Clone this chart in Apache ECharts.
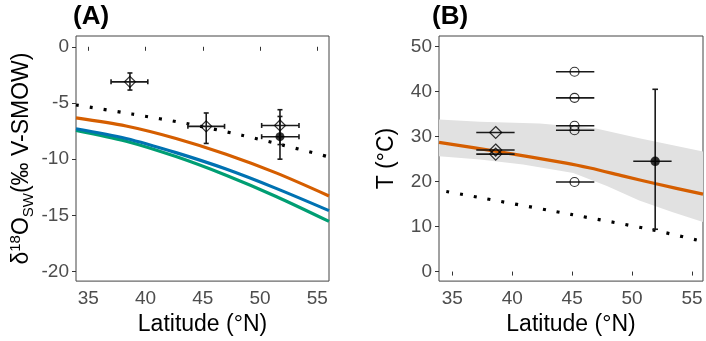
<!DOCTYPE html>
<html>
<head>
<meta charset="utf-8">
<script src="https://cdn.jsdelivr.net/npm/echarts@6/dist/echarts.min.js"></script>
<style>
html,body{margin:0;padding:0;background:#fff;}
#chart{width:706px;height:341px;}
</style>
</head>
<body>
<div id="chart"></div>
<script>
// ---------- tick labels ----------
const latTicks = [35, 40, 45, 50, 55];
const d18Ticks = [-20, -15, -10, -5, 0];
const tempTicks = [0, 10, 20, 30, 40, 50];

// ---------- Panel A: model curves ----------
const curveLatA = [33.93, 38.3, 42.66, 47.03, 51.4, 56.02];
const orangeA = [-6.33, -7.05, -8.16, -9.56, -11.22, -13.27];
const blueA = [-7.29, -8.16, -9.42, -10.88, -12.6, -14.58];
const greenA = [-7.44, -8.4, -9.77, -11.43, -13.32, -15.54];
const dotLatA = [33.93, 38.8, 43.7, 48.4, 52.0, 56.02];
const dotValA = [-5.18, -5.98, -6.85, -7.87, -8.75, -9.8];

// ---------- Panel A: observations ----------
const diaLatA = [38.64, 45.3, 51.74];
const diaValA = [-3.12, -7.08, -7.0];
const diaLatLoA = [36.99, 43.7, 50.14];
const diaLatHiA = [40.2, 46.9, 53.4];
const diaValLoA = [-3.85, -8.6, -8.7];
const diaValHiA = [-2.33, -5.89, -5.6];
const dotPtLatA = [51.74];
const dotPtValA = [-8.0];
const dotPtLatLoA = [50.14];
const dotPtLatHiA = [53.4];
const dotPtValLoA = [-10.0];
const dotPtValHiA = [-6.2];

// ---------- Panel B: model ----------
const curveLatB = [33.89, 38.7, 44.5, 46.5, 49.3, 52.0, 55.92];
const orangeB = [28.7, 26.7, 24.1, 23.0, 21.2, 19.5, 17.2];
const bandUpLatB = [33.89, 37.3, 42.3, 47.0, 50.6, 55.92];
const bandUpB = [33.8, 33.3, 32.9, 31.8, 29.6, 26.7];
const bandLoLatB = [33.89, 37.3, 40.9, 45.1, 47.9, 50.6, 53.4, 55.92];
const bandLoB = [25.6, 24.9, 23.8, 21.9, 19.0, 15.8, 13.2, 11.0];
const dotLatB = [34.5, 44.9, 51.65, 55.4];
const dotValB = [17.8, 12.7, 9.3, 7.0];

// ---------- Panel B: observations ----------
const diaLatB = [38.62, 38.62, 38.62];
const diaValB = [30.9, 27.0, 26.1];
const diaLatLoB = [37.0, 37.0, 37.0];
const diaLatHiB = [40.2, 40.2, 40.2];
const cirLatB = [45.2, 45.2, 45.2, 45.2, 45.2];
const cirValB = [44.4, 38.6, 32.4, 31.4, 19.9];
const cirLatLoB = [43.65, 43.65, 43.65, 43.65, 43.65];
const cirLatHiB = [46.85, 46.85, 46.85, 46.85, 46.85];
const filLatB = [51.93];
const filValB = [24.5];
const filLatLoB = [50.1];
const filLatHiB = [53.3];
const filValLoB = [9.4];
const filValHiB = [40.5];

// ---------- helpers ----------
const zip = (a, b) => a.map((v, i) => [v, b[i]]);
function errRows(x, y, xlo, xhi, ylo, yhi) {
  return x.map((v, i) => [v, y[i], xlo[i], xhi[i],
    ylo ? ylo[i] : y[i], yhi ? yhi[i] : y[i]]);
}
function errRender(capX, capY) {
  return function (params, api) {
    const x = api.value(0), y = api.value(1);
    const xlo = api.value(2), xhi = api.value(3);
    const ylo = api.value(4), yhi = api.value(5);
    const st = { stroke: '#1a1a1a', lineWidth: 1.6, fill: null };
    const ch = [];
    if (xlo !== xhi) {
      const a = api.coord([xlo, y]), b = api.coord([xhi, y]);
      ch.push({ type: 'line', shape: { x1: a[0], y1: a[1], x2: b[0], y2: b[1] }, style: st });
      if (capX) {
        ch.push({ type: 'line', shape: { x1: a[0], y1: a[1] - capX, x2: a[0], y2: a[1] + capX }, style: st });
        ch.push({ type: 'line', shape: { x1: b[0], y1: b[1] - capX, x2: b[0], y2: b[1] + capX }, style: st });
      }
    }
    if (ylo !== yhi) {
      const a = api.coord([x, ylo]), b = api.coord([x, yhi]);
      ch.push({ type: 'line', shape: { x1: a[0], y1: a[1], x2: b[0], y2: b[1] }, style: st });
      if (capY) {
        ch.push({ type: 'line', shape: { x1: a[0] - capY, y1: a[1], x2: a[0] + capY, y2: a[1] }, style: st });
        ch.push({ type: 'line', shape: { x1: b[0] - capY, y1: b[1], x2: b[0] + capY, y2: b[1] }, style: st });
      }
    }
    return { type: 'group', children: ch };
  };
}
function bandRender(params, api) {
  const pts = [];
  bandUpLatB.forEach((v, i) => pts.push(api.coord([v, bandUpB[i]])));
  for (let i = bandLoLatB.length - 1; i >= 0; i--) pts.push(api.coord([bandLoLatB[i], bandLoB[i]]));
  return { type: 'polygon', shape: { points: pts }, style: { fill: '#e1e1e1', stroke: null } };
}

const FONT = '"Liberation Sans", Arial, Helvetica, sans-serif';
const tickLabel = { color: '#4d4d4d', fontSize: 19, fontFamily: FONT };
function xAx(grid, min, max) {
  return {
    type: 'value', gridIndex: grid, min: min, max: max,
    name: 'Latitude (°N)', nameLocation: 'middle', nameGap: 25,
    nameTextStyle: { color: '#000', fontSize: 23, fontFamily: FONT },
    axisLine: { show: false },
    axisTick: { show: true, length: 4, lineStyle: { color: '#333', width: 1 }, customValues: latTicks },
    axisLabel: Object.assign({ margin: 8, customValues: latTicks }, tickLabel),
    splitLine: { show: false }
  };
}
function yAx(grid, min, max, ticks, name, rich, gap) {
  const o = {
    type: 'value', gridIndex: grid, min: min, max: max,
    name: name, nameLocation: 'middle', nameGap: gap,
    nameTextStyle: { color: '#000', fontSize: 23, fontFamily: FONT },
    axisLine: { show: false },
    axisTick: { show: true, length: 4, lineStyle: { color: '#333', width: 1 }, customValues: ticks },
    axisLabel: Object.assign({ margin: 7, customValues: ticks }, tickLabel),
    splitLine: { show: false }
  };
  if (rich) o.nameTextStyle.rich = rich;
  return o;
}

const chart = echarts.init(document.getElementById('chart'), null, { renderer: 'canvas' });
const option = {
  animation: false,
  backgroundColor: '#fff',
  graphic: [
    { type: 'text', left: 73, top: 4, style: { text: '(A)', font: 'bold 26px ' + FONT, fill: '#000' } },
    { type: 'text', left: 432, top: 4, style: { text: '(B)', font: 'bold 26px ' + FONT, fill: '#000' } }
  ],
  grid: [
    { left: 76, top: 36, width: 253, height: 249, show: true, borderColor: '#444', borderWidth: 1, backgroundColor: 'transparent' },
    { left: 439, top: 36, width: 264, height: 249, show: true, borderColor: '#444', borderWidth: 1, backgroundColor: 'transparent' }
  ],
  xAxis: [xAx(0, 33.93, 56.02), xAx(1, 33.89, 55.92)],
  yAxis: [
    yAx(0, -20.85, 0.96, d18Ticks, '{d|δ}{sup|18}{d|O}{sub|SW}{d|(‰ V-SMOW)}', {
      d: { fontSize: 23, color: '#000', fontFamily: FONT, lineHeight: 28 },
      sup: { fontSize: 15, color: '#000', fontFamily: FONT, lineHeight: 15, verticalAlign: 'top' },
      sub: { fontSize: 15, color: '#000', fontFamily: FONT, lineHeight: 18, verticalAlign: 'bottom' }
    }, 40),
    yAx(1, -2.12, 52.34, tempTicks, 'T (°C)', null, 41)
  ],
  series: [
    // ----- Panel A -----
    { type: 'line', xAxisIndex: 0, yAxisIndex: 0, data: zip(dotLatA, dotValA), smooth: 0.3, symbol: 'none',
      lineStyle: { color: '#000', width: 3.2, type: [3, 11], cap: 'butt' }, z: 3 },
    { type: 'line', xAxisIndex: 0, yAxisIndex: 0, data: zip(curveLatA, greenA), smooth: 0.3, symbol: 'none',
      lineStyle: { color: '#009E73', width: 3.2 }, z: 3 },
    { type: 'line', xAxisIndex: 0, yAxisIndex: 0, data: zip(curveLatA, blueA), smooth: 0.3, symbol: 'none',
      lineStyle: { color: '#0072B2', width: 3.2 }, z: 3 },
    { type: 'line', xAxisIndex: 0, yAxisIndex: 0, data: zip(curveLatA, orangeA), smooth: 0.3, symbol: 'none',
      lineStyle: { color: '#D55E00', width: 3.2 }, z: 3 },
    { type: 'custom', xAxisIndex: 0, yAxisIndex: 0, renderItem: errRender(2.5, 2.5),
      encode: { x: [0, 2, 3], y: [1, 4, 5] },
      data: errRows(diaLatA, diaValA, diaLatLoA, diaLatHiA, diaValLoA, diaValHiA)
        .concat(errRows(dotPtLatA, dotPtValA, dotPtLatLoA, dotPtLatHiA, dotPtValLoA, dotPtValHiA)), z: 4 },
    { type: 'scatter', xAxisIndex: 0, yAxisIndex: 0, data: zip(dotPtLatA, dotPtValA), symbol: 'circle', symbolSize: 9,
      itemStyle: { color: '#000', borderWidth: 0 }, z: 5 },
    { type: 'scatter', xAxisIndex: 0, yAxisIndex: 0, data: zip(diaLatA, diaValA), symbol: 'diamond', symbolSize: 11,
      itemStyle: { color: 'rgba(0,0,0,0)', borderColor: '#000', borderWidth: 1.2 }, z: 6 },

    // ----- Panel B -----
    { type: 'custom', xAxisIndex: 1, yAxisIndex: 1, renderItem: bandRender, data: [[45, 25]], z: 1, silent: true, clip: true },
    { type: 'line', xAxisIndex: 1, yAxisIndex: 1, data: zip(dotLatB, dotValB), smooth: 0.3, symbol: 'none',
      lineStyle: { color: '#000', width: 3.2, type: [3, 11], cap: 'butt' }, z: 3 },
    { type: 'line', xAxisIndex: 1, yAxisIndex: 1, data: zip(curveLatB, orangeB), smooth: 0.3, symbol: 'none',
      lineStyle: { color: '#D55E00', width: 3.2 }, z: 3 },
    { type: 'custom', xAxisIndex: 1, yAxisIndex: 1, renderItem: errRender(0, 2.8),
      encode: { x: [0, 2, 3], y: [1, 4, 5] },
      data: errRows(diaLatB, diaValB, diaLatLoB, diaLatHiB)
        .concat(errRows(cirLatB, cirValB, cirLatLoB, cirLatHiB))
        .concat(errRows(filLatB, filValB, filLatLoB, filLatHiB, filValLoB, filValHiB)), z: 4 },
    { type: 'scatter', xAxisIndex: 1, yAxisIndex: 1, data: zip(diaLatB, diaValB), symbol: 'diamond', symbolSize: 12,
      itemStyle: { color: 'rgba(0,0,0,0)', borderColor: '#000', borderWidth: 1.2 }, z: 6 },
    { type: 'scatter', xAxisIndex: 1, yAxisIndex: 1, data: zip(cirLatB, cirValB), symbol: 'circle', symbolSize: 9,
      itemStyle: { color: 'rgba(0,0,0,0)', borderColor: '#000', borderWidth: 1.2 }, z: 6 },
    { type: 'scatter', xAxisIndex: 1, yAxisIndex: 1, data: zip(filLatB, filValB), symbol: 'circle', symbolSize: 9.5,
      itemStyle: { color: '#000', borderWidth: 0 }, z: 6 }
  ]
};
chart.setOption(option);
</script>
</body>
</html>
